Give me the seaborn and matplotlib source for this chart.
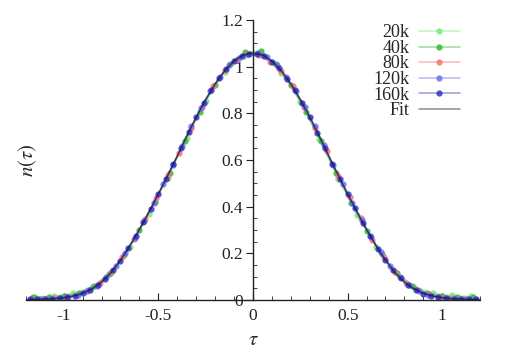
import numpy as np
import pandas as pd
import matplotlib
matplotlib.use("Agg")
import matplotlib.pyplot as plt
from matplotlib.colors import to_rgba
from matplotlib.ticker import MultipleLocator, FormatStrFormatter
import seaborn as sns

sns.set_theme(style="ticks")
plt.rcParams.update({
    "font.family": ["Liberation Serif", "DejaVu Serif"],
    "mathtext.fontset": "stix",
    "axes.unicode_minus": False,
})

# ---- data ----
tau_20k = [-1.15, -1.05, -0.95, -0.85, -0.75, -0.65, -0.55, -0.45, -0.35, -0.25, -0.15, -0.05,
           0.05, 0.15, 0.25, 0.35, 0.45, 0.55, 0.65, 0.75, 0.85, 0.95, 1.05, 1.15]
n_20k = [0.014, 0.018, 0.029, 0.056, 0.118, 0.226, 0.368, 0.525, 0.695, 0.855, 0.978, 1.048,
         1.050, 0.975, 0.850, 0.690, 0.520, 0.365, 0.228, 0.122, 0.058, 0.030, 0.020, 0.016]

tau_40k = [-1.16, -1.08, -1.00, -0.92, -0.84, -0.76, -0.68, -0.60, -0.52, -0.44, -0.36, -0.28, -0.20, -0.12, -0.04,
           0.04, 0.12, 0.20, 0.28, 0.36, 0.44, 0.52, 0.60, 0.68, 0.76, 0.84, 0.92, 1.00, 1.08, 1.16]
n_40k = [0.011, 0.014, 0.017, 0.030, 0.061, 0.113, 0.195, 0.300, 0.420, 0.546, 0.682, 0.808, 0.924, 1.014, 1.064,
         1.066, 1.012, 0.922, 0.806, 0.680, 0.543, 0.417, 0.298, 0.197, 0.114, 0.060, 0.031, 0.018, 0.013, 0.012]

tau_80k = [-1.17, -1.11, -1.05, -0.99, -0.93, -0.87, -0.81, -0.75, -0.69, -0.63, -0.57, -0.51, -0.45, -0.39,
           -0.33, -0.27, -0.21, -0.15, -0.09, -0.03, 0.03, 0.09, 0.15, 0.21, 0.27, 0.33, 0.39, 0.45, 0.51, 0.57,
           0.63, 0.69, 0.75, 0.81, 0.87, 0.93, 0.99, 1.05, 1.11, 1.17]
n_80k = [0.004, 0.005, 0.007, 0.012, 0.023, 0.042, 0.071, 0.119, 0.184, 0.263, 0.347, 0.437, 0.537, 0.631,
         0.737, 0.828, 0.916, 0.985, 1.027, 1.054, 1.052, 1.022, 0.980, 0.918, 0.826, 0.738, 0.638, 0.532, 0.442, 0.350,
         0.258, 0.186, 0.120, 0.072, 0.044, 0.024, 0.013, 0.008, 0.006, 0.005]

tau_120k = [-1.175, -1.125, -1.075, -1.025, -0.975, -0.925, -0.875, -0.825, -0.775, -0.725, -0.675, -0.625,
            -0.575, -0.525, -0.475, -0.425, -0.375, -0.325, -0.275, -0.225, -0.175, -0.125, -0.075, -0.025,
            0.025, 0.075, 0.125, 0.175, 0.225, 0.275, 0.325, 0.375, 0.425, 0.475, 0.525, 0.575,
            0.625, 0.675, 0.725, 0.775, 0.825, 0.875, 0.925, 0.975, 1.025, 1.075, 1.125, 1.175]
n_120k = [0.003, 0.004, 0.005, 0.008, 0.014, 0.022, 0.038, 0.061, 0.097, 0.144, 0.203, 0.268,
          0.340, 0.416, 0.496, 0.577, 0.662, 0.745, 0.824, 0.895, 0.957, 1.006, 1.039, 1.056,
          1.057, 1.040, 1.008, 0.958, 0.897, 0.826, 0.747, 0.664, 0.579, 0.498, 0.418, 0.342,
          0.270, 0.204, 0.146, 0.098, 0.063, 0.039, 0.023, 0.013, 0.008, 0.005, 0.004, 0.003]

tau_160k = [-1.18, -1.14, -1.10, -1.06, -1.02, -0.98, -0.94, -0.90, -0.86, -0.82, -0.78, -0.74, -0.70, -0.66, -0.62,
            -0.58, -0.54, -0.50, -0.46, -0.42, -0.38, -0.34, -0.30, -0.26, -0.22, -0.18, -0.14, -0.10, -0.06, -0.02,
            0.02, 0.06, 0.10, 0.14, 0.18, 0.22, 0.26, 0.30, 0.34, 0.38, 0.42, 0.46, 0.50, 0.54, 0.58,
            0.62, 0.66, 0.70, 0.74, 0.78, 0.82, 0.86, 0.90, 0.94, 0.98, 1.02, 1.06, 1.10, 1.14, 1.18]
n_160k = [0.003, 0.003, 0.004, 0.006, 0.009, 0.013, 0.018, 0.029, 0.044, 0.066, 0.091, 0.129, 0.169, 0.221, 0.273,
          0.333, 0.391, 0.456, 0.518, 0.585, 0.650, 0.720, 0.783, 0.846, 0.899, 0.950, 0.990, 1.026, 1.045, 1.056,
          1.054, 1.047, 1.022, 0.993, 0.947, 0.902, 0.843, 0.786, 0.717, 0.653, 0.582, 0.521, 0.453, 0.394, 0.330,
          0.276, 0.218, 0.171, 0.127, 0.093, 0.064, 0.045, 0.028, 0.019, 0.012, 0.008, 0.006, 0.004, 0.003, 0.003]

tau_fit = [-1.20, -1.15, -1.10, -1.05, -1.00, -0.95, -0.90, -0.85, -0.80, -0.75, -0.70, -0.65, -0.60, -0.55,
           -0.50, -0.45, -0.40, -0.35, -0.30, -0.25, -0.20, -0.15, -0.10, -0.05, 0.00, 0.05, 0.10, 0.15, 0.20,
           0.25, 0.30, 0.35, 0.40, 0.45, 0.50, 0.55, 0.60, 0.65, 0.70, 0.75, 0.80, 0.85, 0.90, 0.95, 1.00,
           1.05, 1.10, 1.15, 1.20]
n_fit = [0.002, 0.003, 0.004, 0.006, 0.010, 0.017, 0.029, 0.048, 0.076, 0.117, 0.170, 0.233, 0.302, 0.376,
         0.455, 0.535, 0.617, 0.703, 0.784, 0.860, 0.927, 0.983, 1.025, 1.051, 1.060, 1.051, 1.025, 0.983, 0.927,
         0.860, 0.784, 0.703, 0.617, 0.535, 0.455, 0.376, 0.302, 0.233, 0.170, 0.117, 0.076, 0.048, 0.029, 0.017,
         0.010, 0.006, 0.004, 0.003, 0.002]

# label, tau, n, colour
SERIES = [
    ("20k", tau_20k, n_20k, "#7be87b"),
    ("40k", tau_40k, n_40k, "#33bb33"),
    ("80k", tau_80k, n_80k, "#ff7070"),
    ("120k", tau_120k, n_120k, "#7070ee"),
    ("160k", tau_160k, n_160k, "#3434c4"),
]

fig, ax = plt.subplots(figsize=(5.07, 3.53), dpi=100)
fig.subplots_adjust(left=0.051, right=0.947, bottom=0.150, top=0.943)

for label, t, n, c in SERIES:
    sns.lineplot(x=t, y=n, ax=ax, label=label, marker="o", markersize=4.5,
                 color=c, linewidth=1.1, markeredgewidth=0)
    ln = ax.lines[-1]
    ln.set_color(to_rgba(c, 0.5))
    ln.set_markerfacecolor(to_rgba(c, 0.85))
    ln.set_markeredgecolor(to_rgba(c, 0.85))

sns.lineplot(x=tau_fit, y=n_fit, ax=ax, label="Fit", color="black", linewidth=1.1)
ax.lines[-1].set_color(to_rgba("black", 0.45))

ax.set_xlim(-1.2, 1.2)
ax.set_ylim(0, 1.2)

ax.spines["left"].set_position(("data", 0))
ax.spines["bottom"].set_position(("data", 0))
ax.spines["top"].set_visible(False)
ax.spines["right"].set_visible(False)
for s in ("left", "bottom"):
    ax.spines[s].set_color("#222222")
    ax.spines[s].set_linewidth(1.0)

ax.xaxis.set_major_locator(MultipleLocator(0.5))
ax.xaxis.set_minor_locator(MultipleLocator(0.1))
ax.yaxis.set_major_locator(MultipleLocator(0.2))
ax.yaxis.set_minor_locator(MultipleLocator(0.05))
ax.xaxis.set_major_formatter(FormatStrFormatter("%g"))
ax.yaxis.set_major_formatter(FormatStrFormatter("%g"))

ax.tick_params(axis="x", which="major", direction="in", length=5, width=0.8, labelsize=12.5, pad=6, colors="#222222")
ax.tick_params(axis="x", which="minor", direction="in", length=3, width=0.6, colors="#222222")
ax.tick_params(axis="y", which="major", direction="out", length=5, width=0.8, labelsize=12.5, pad=2, colors="#222222")
ax.tick_params(axis="y", which="minor", direction="in", length=3, width=0.6, colors="#222222")

ax.set_xlabel(r"$\tau$", fontsize=15, labelpad=5)
ax.set_ylabel(r"$n(\tau)$", fontsize=15)
ax.yaxis.set_label_coords(0.03, 0.5)

ax.legend(loc="upper right", bbox_to_anchor=(0.984, 1.03), frameon=False, markerfirst=False,
          fontsize=13, labelspacing=-0.08, handlelength=2.3, handletextpad=0.5, borderpad=0.2)

fig.savefig("out.png", dpi=100)
